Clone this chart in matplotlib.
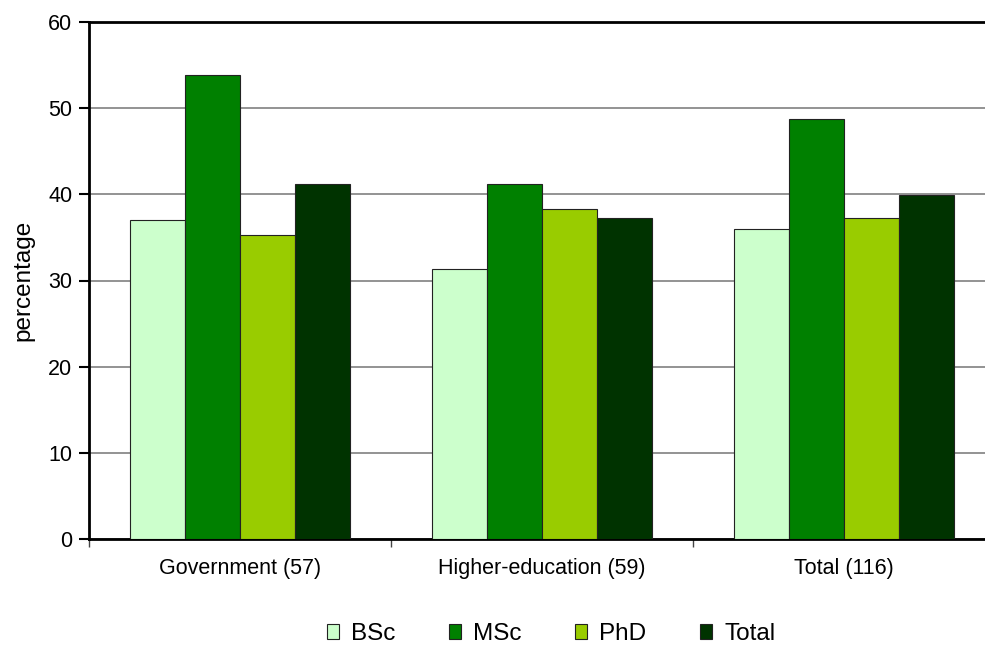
import matplotlib
matplotlib.use("Agg")
import matplotlib.pyplot as plt
import numpy as np

plt.rcParams['font.family'] = ['Liberation Sans', 'DejaVu Sans']

categories = ["Government (57)", "Higher-education (59)", "Total (116)"]
series = ["BSc", "MSc", "PhD", "Total"]
bsc = [37.0, 31.3, 36.0]
msc = [53.9, 41.2, 48.7]
phd = [35.3, 38.3, 37.2]
total = [41.2, 37.2, 39.9]
colors = ["#CCFFCC", "#008000", "#99CC00", "#003300"]
yticks = [0, 10, 20, 30, 40, 50, 60]

fig = plt.figure(figsize=(9.85, 6.46), dpi=100)
ax = fig.add_axes([89/985, 1-539/646, (995-89)/985, (539-22)/646])

x = np.arange(len(categories))
w = 0.182
data = [bsc, msc, phd, total]
for i, (vals, c, name) in enumerate(zip(data, colors, series)):
    ax.bar(x + (i - 1.5) * w, vals, w, color=c, edgecolor="#222222", linewidth=0.8,
           label=name, zorder=3)

ax.set_xlim(-0.5, 2.5)
ax.set_ylim(0, 60)
ax.set_yticks(yticks)
ax.set_yticklabels([str(t) for t in yticks], fontsize=15.5)
ax.yaxis.grid(True, color="#808080", linewidth=1.2, zorder=0)
ax.set_axisbelow(True)

ax.set_xticks([-0.5, 0.5, 1.5, 2.5])
ax.set_xticklabels([])
ax.set_xticks(x, minor=True)
ax.set_xticklabels(categories, minor=True, fontsize=15.5)
ax.tick_params(axis='x', which='minor', length=0, pad=14)
ax.tick_params(axis='x', which='major', length=6, width=1, color="#444444", direction='out')
ax.tick_params(axis='y', length=7, width=1.5, direction='out', pad=5)

for s in ['left', 'top', 'bottom']:
    ax.spines[s].set_linewidth(2)
    ax.spines[s].set_color("black")
ax.spines['right'].set_visible(False)

ax.set_ylabel("percentage", fontsize=17.5, labelpad=10)

leg = fig.legend(loc='center', bbox_to_anchor=(551/985, 1-634/646), ncol=4, frameon=False,
                 fontsize=17.5, handlelength=0.5, handleheight=0.6, columnspacing=2.2,
                 handletextpad=0.5, borderpad=0)

fig.savefig("out.png", dpi=100)
